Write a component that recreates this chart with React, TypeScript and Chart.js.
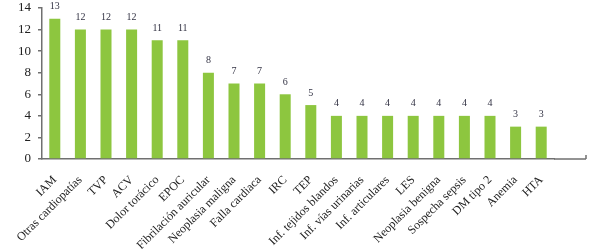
import React, { useEffect, useRef } from "react";
import { Chart, registerables } from "chart.js";

Chart.register(...registerables);

const categories = [
  "IAM",
  "Otras cardiopatías",
  "TVP",
  "ACV",
  "Dolor torácico",
  "EPOC",
  "Fibrilación auricular",
  "Neoplasia maligna",
  "Falla cardiaca",
  "IRC",
  "TEP",
  "Inf. tejidos blandos",
  "Inf. vías urinarias",
  "Inf. articulares",
  "LES",
  "Neoplasia benigna",
  "Sospecha sepsis",
  "DM tipo 2",
  "Anemia",
  "HTA",
];

const values = [13, 12, 12, 12, 11, 11, 8, 7, 7, 6, 5, 4, 4, 4, 4, 4, 4, 4, 3, 3];

const yMin = 0;
const yMax = 14;
const yStep = 2;

const FONT = "'Liberation Serif', 'Times New Roman', serif";
const AXIS_COLOR = "#707070";

const dataLabelPlugin = {
  id: "dataLabels",
  afterDatasetsDraw(chart: any) {
    const ctx = chart.ctx;
    const meta = chart.getDatasetMeta(0);
    ctx.save();
    ctx.font = `10px ${FONT}`;
    ctx.fillStyle = "#333344";
    ctx.textAlign = "center";
    ctx.textBaseline = "bottom";
    meta.data.forEach((bar: any, i: number) => {
      ctx.fillText(String(values[i]), bar.x, bar.y - 7);
    });
    ctx.restore();
  },
};

const axisExtendPlugin = {
  id: "axisExtend",
  afterDraw(chart: any) {
    const { ctx, chartArea } = chart;
    const endX = 586;
    const y = chartArea.bottom;
    ctx.save();
    ctx.strokeStyle = AXIS_COLOR;
    ctx.lineWidth = 1.5;
    ctx.beginPath();
    ctx.moveTo(chartArea.right, y);
    ctx.lineTo(endX, y);
    ctx.moveTo(endX, y);
    ctx.lineTo(endX, y - 4);
    ctx.stroke();
    ctx.restore();
  },
};

export default function App() {
  const ref = useRef<HTMLCanvasElement | null>(null);

  useEffect(() => {
    if (!ref.current) return;
    const chart = new Chart(ref.current, {
      type: "bar",
      data: {
        labels: categories,
        datasets: [
          {
            data: values,
            backgroundColor: "#8dc63f",
            borderWidth: 0,
            categoryPercentage: 1,
            barPercentage: 0.43,
          },
        ],
      },
      options: {
        responsive: false,
        animation: false,
        layout: { padding: { top: 8, right: 35, left: 0, bottom: 0 } },
        plugins: {
          legend: { display: false },
          tooltip: { enabled: false },
        },
        scales: {
          x: {
            offset: true,
            grid: { display: false },
            border: { display: true, color: AXIS_COLOR, width: 1.5 },
            ticks: {
              autoSkip: false,
              maxRotation: 45,
              minRotation: 45,
              padding: 6,
              color: "#222",
              font: { family: FONT, size: 12 },
            },
            afterFit: (scale: any) => {
              scale.height = 90;
            },
          },
          y: {
            min: yMin,
            max: yMax,
            grid: {
              display: true,
              drawOnChartArea: false,
              drawTicks: true,
              tickLength: 4,
              color: AXIS_COLOR,
              lineWidth: 1.5,
            },
            border: { display: true, color: AXIS_COLOR, width: 1.5 },
            ticks: {
              stepSize: yStep,
              padding: 7,
              color: "#222",
              font: { family: FONT, size: 13 },
            },
            afterFit: (scale: any) => {
              scale.width = 42;
              scale.paddingTop = 0;
              scale.paddingBottom = 0;
            },
          },
        },
      },
      plugins: [dataLabelPlugin, axisExtendPlugin],
    });
    return () => chart.destroy();
  }, []);

  return (
    <div style={{ position: "absolute", left: 0, top: 0, width: 589, height: 249, background: "#fff" }}>
      <canvas ref={ref} width={589} height={249} style={{ display: "block" }} />
    </div>
  );
}
